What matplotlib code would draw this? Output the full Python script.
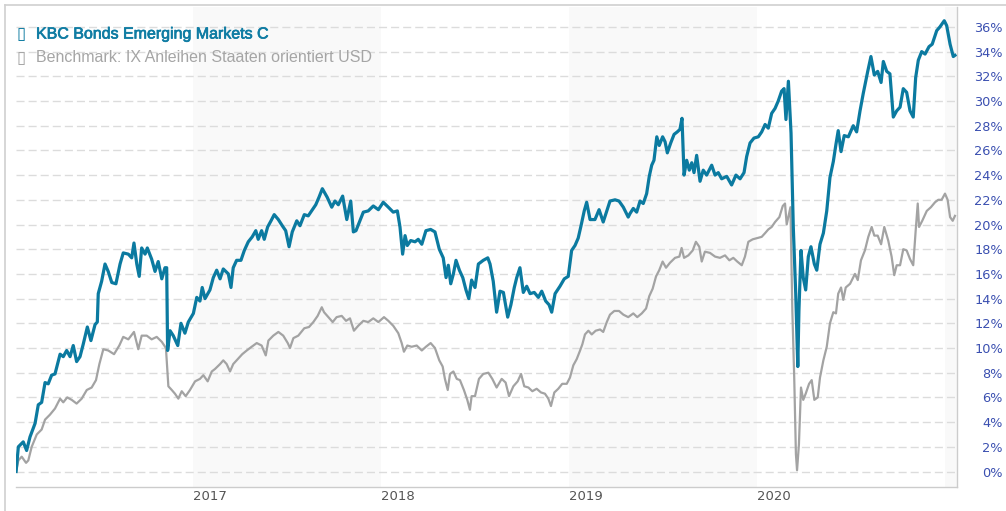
import matplotlib
matplotlib.use("Agg")
import matplotlib.pyplot as plt
from matplotlib.lines import Line2D
import matplotlib.patheffects as pe

# ---------------- data (decimal years, percent) ----------------
fund_t = [2016.059, 2016.071, 2016.097, 2016.115, 2016.133, 2016.160, 2016.177, 2016.195, 2016.213, 2016.230,
          2016.248, 2016.266, 2016.293, 2016.310, 2016.328, 2016.346, 2016.363, 2016.381, 2016.399, 2016.416,
          2016.438, 2016.457, 2016.479, 2016.491, 2016.496, 2016.514, 2016.532, 2016.549, 2016.568, 2016.590,
          2016.612, 2016.629, 2016.656, 2016.674, 2016.686, 2016.701, 2016.714, 2016.727, 2016.745, 2016.757,
          2016.780, 2016.798, 2016.815, 2016.834, 2016.851, 2016.860, 2016.865, 2016.878, 2016.895, 2016.919,
          2016.936, 2016.957, 2016.975, 2017.002, 2017.020, 2017.037, 2017.049, 2017.064, 2017.090, 2017.108,
          2017.126, 2017.144, 2017.161, 2017.188, 2017.202, 2017.214, 2017.232, 2017.255, 2017.273, 2017.294,
          2017.315, 2017.334, 2017.347, 2017.365, 2017.379, 2017.397, 2017.415, 2017.432, 2017.454, 2017.475,
          2017.493, 2017.511, 2017.528, 2017.552, 2017.569, 2017.592, 2017.613, 2017.631, 2017.653, 2017.670,
          2017.688, 2017.714, 2017.738, 2017.755, 2017.773, 2017.796, 2017.818, 2017.839, 2017.853, 2017.867,
          2017.885, 2017.906, 2017.932, 2017.959, 2017.986, 2018.012, 2018.039, 2018.065, 2018.087, 2018.101,
          2018.115, 2018.128, 2018.140, 2018.158, 2018.181, 2018.198, 2018.217, 2018.239, 2018.264, 2018.287,
          2018.310, 2018.331, 2018.346, 2018.358, 2018.371, 2018.385, 2018.399, 2018.417, 2018.435, 2018.452,
          2018.467, 2018.482, 2018.500, 2018.518, 2018.544, 2018.568, 2018.580, 2018.597, 2018.615, 2018.633,
          2018.651, 2018.674, 2018.691, 2018.709, 2018.722, 2018.739, 2018.757, 2018.775, 2018.793, 2018.815,
          2018.837, 2018.855, 2018.876, 2018.894, 2018.908, 2018.926, 2018.952, 2018.975, 2018.996, 2019.014,
          2019.032, 2019.049, 2019.064, 2019.081, 2019.094, 2019.112, 2019.138, 2019.160, 2019.182, 2019.201,
          2019.218, 2019.245, 2019.266, 2019.289, 2019.315, 2019.325, 2019.342, 2019.360, 2019.378, 2019.395,
          2019.413, 2019.427, 2019.440, 2019.452, 2019.467, 2019.480, 2019.498, 2019.511, 2019.523, 2019.541,
          2019.559, 2019.576, 2019.590, 2019.601, 2019.612, 2019.626, 2019.640, 2019.653, 2019.665, 2019.679,
          2019.697, 2019.714, 2019.732, 2019.759, 2019.777, 2019.794, 2019.812, 2019.839, 2019.865, 2019.888,
          2019.910, 2019.931, 2019.945, 2019.963, 2019.984, 2020.007, 2020.025, 2020.043, 2020.060, 2020.078,
          2020.096, 2020.113, 2020.131, 2020.144, 2020.154, 2020.167, 2020.181, 2020.193, 2020.206, 2020.217,
          2020.223, 2020.234, 2020.246, 2020.259, 2020.273, 2020.287, 2020.305, 2020.318, 2020.335, 2020.353,
          2020.371, 2020.388, 2020.406, 2020.420, 2020.432, 2020.447, 2020.464, 2020.486, 2020.512, 2020.530,
          2020.548, 2020.565, 2020.589, 2020.606, 2020.624, 2020.642, 2020.660, 2020.672, 2020.690, 2020.707,
          2020.725, 2020.743, 2020.761, 2020.778, 2020.796, 2020.814, 2020.831, 2020.844, 2020.858, 2020.876,
          2020.894, 2020.915, 2020.932, 2020.956, 2020.973, 2020.996, 2021.009, 2021.027, 2021.044, 2021.053]
fund_v = [0.0, 2.0, 2.4, 1.7, 2.8, 3.9, 5.4, 5.6, 7.2, 7.1,
          7.8, 7.9, 9.5, 9.3, 9.8, 9.3, 10.2, 8.9, 9.3, 10.3,
          11.7, 10.6, 11.9, 12.1, 14.4, 15.4, 16.8, 16.2, 15.3, 15.2,
          16.8, 17.7, 17.6, 17.3, 18.5, 16.8, 15.8, 18.1, 17.6, 18.1,
          17.2, 16.2, 17.0, 15.6, 16.5, 16.5, 9.8, 11.4, 11.0, 10.2,
          12.0, 11.2, 12.1, 12.8, 14.1, 13.8, 14.9, 14.0, 14.7, 15.7,
          16.3, 15.6, 16.4, 16.0, 14.9, 16.5, 17.1, 17.1, 17.9, 18.6,
          19.0, 19.5, 18.8, 19.5, 18.8, 19.8, 20.3, 20.8, 20.4, 19.9,
          19.5, 18.2, 19.4, 20.3, 19.9, 20.8, 20.7, 21.1, 21.6, 22.2,
          22.9, 22.2, 21.4, 21.9, 21.6, 22.3, 20.4, 21.9, 19.4, 19.5,
          20.2, 21.0, 21.1, 21.5, 21.2, 21.8, 21.4, 21.0, 21.1, 19.8,
          17.6, 19.1, 18.3, 18.7, 18.6, 18.8, 18.4, 19.5, 19.6, 19.4,
          18.0, 17.3, 15.7, 16.7, 15.2, 16.0, 17.1, 16.3, 15.7, 14.7,
          14.0, 15.5, 14.9, 16.8, 17.1, 17.3, 16.8, 15.4, 12.9, 14.6,
          14.5, 12.5, 13.5, 14.9, 15.7, 16.5, 14.5, 15.0, 14.4, 14.5,
          14.1, 14.6, 13.8, 13.5, 12.9, 14.4, 15.0, 15.6, 15.8, 17.9,
          18.3, 18.9, 19.9, 21.1, 21.8, 20.4, 20.4, 21.2, 20.2, 21.1,
          21.9, 22.0, 21.9, 21.4, 20.6, 20.9, 21.3, 21.0, 21.9, 21.7,
          22.5, 23.9, 24.8, 25.2, 27.1, 26.4, 27.1, 26.7, 25.8, 26.6,
          27.3, 27.5, 27.7, 28.6, 24.0, 25.2, 24.4, 25.0, 24.2, 25.6,
          23.5, 24.4, 24.0, 24.8, 24.0, 24.2, 23.7, 23.9, 23.2, 24.0,
          23.7, 24.2, 25.5, 26.6, 27.0, 27.1, 27.5, 28.1, 27.8, 29.0,
          29.4, 30.0, 30.8, 31.0, 28.5, 31.6, 27.4, 19.8, 14.4, 8.5,
          13.0, 17.9, 15.7, 14.7, 17.4, 18.2, 16.8, 16.3, 18.4, 19.3,
          21.1, 23.8, 25.1, 26.5, 27.6, 25.9, 27.2, 27.1, 28.0, 27.5,
          29.2, 30.6, 32.4, 33.6, 32.1, 32.4, 31.5, 33.2, 32.4, 32.2,
          28.7, 29.2, 29.5, 31.0, 30.7, 29.2, 28.7, 31.9, 33.3, 34.0,
          33.8, 34.4, 34.6, 35.7, 36.0, 36.5, 36.1, 34.6, 33.6, 33.7]

bench_t = [2016.059, 2016.071, 2016.089, 2016.112, 2016.124, 2016.142, 2016.169, 2016.195, 2016.213, 2016.239,
           2016.266, 2016.293, 2016.310, 2016.331, 2016.355, 2016.381, 2016.408, 2016.435, 2016.461, 2016.484,
           2016.502, 2016.523, 2016.549, 2016.580, 2016.608, 2016.629, 2016.656, 2016.686, 2016.709, 2016.727,
           2016.754, 2016.780, 2016.807, 2016.834, 2016.856, 2016.869, 2016.887, 2016.904, 2016.922, 2016.940,
           2016.961, 2016.984, 2017.011, 2017.037, 2017.055, 2017.078, 2017.100, 2017.117, 2017.144, 2017.161,
           2017.179, 2017.197, 2017.214, 2017.238, 2017.262, 2017.286, 2017.312, 2017.339, 2017.365, 2017.387,
           2017.401, 2017.427, 2017.454, 2017.480, 2017.504, 2017.516, 2017.534, 2017.560, 2017.592, 2017.617,
           2017.640, 2017.663, 2017.685, 2017.697, 2017.720, 2017.743, 2017.764, 2017.791, 2017.814, 2017.835,
           2017.856, 2017.879, 2017.906, 2017.932, 2017.959, 2017.986, 2018.016, 2018.039, 2018.065, 2018.092,
           2018.110, 2018.122, 2018.140, 2018.163, 2018.190, 2018.217, 2018.239, 2018.264, 2018.287, 2018.310,
           2018.328, 2018.340, 2018.355, 2018.367, 2018.385, 2018.403, 2018.420, 2018.441, 2018.459, 2018.473,
           2018.482, 2018.500, 2018.521, 2018.544, 2018.571, 2018.592, 2018.615, 2018.642, 2018.663, 2018.681,
           2018.704, 2018.727, 2018.745, 2018.762, 2018.784, 2018.805, 2018.828, 2018.851, 2018.872, 2018.890,
           2018.904, 2018.922, 2018.943, 2018.964, 2018.988, 2019.005, 2019.023, 2019.041, 2019.059, 2019.071,
           2019.085, 2019.103, 2019.121, 2019.142, 2019.165, 2019.182, 2019.201, 2019.218, 2019.241, 2019.266,
           2019.289, 2019.315, 2019.342, 2019.363, 2019.387, 2019.410, 2019.427, 2019.445, 2019.463, 2019.480,
           2019.498, 2019.516, 2019.537, 2019.564, 2019.587, 2019.599, 2019.612, 2019.635, 2019.658, 2019.675,
           2019.693, 2019.706, 2019.723, 2019.750, 2019.777, 2019.803, 2019.830, 2019.853, 2019.874, 2019.895,
           2019.919, 2019.936, 2019.954, 2019.977, 2020.001, 2020.025, 2020.043, 2020.060, 2020.078, 2020.096,
           2020.119, 2020.137, 2020.149, 2020.158, 2020.172, 2020.178, 2020.188, 2020.198, 2020.207, 2020.213,
           2020.223, 2020.234, 2020.246, 2020.259, 2020.277, 2020.291, 2020.305, 2020.323, 2020.335, 2020.353,
           2020.371, 2020.388, 2020.406, 2020.420, 2020.432, 2020.447, 2020.459, 2020.472, 2020.495, 2020.521,
           2020.536, 2020.553, 2020.574, 2020.592, 2020.610, 2020.624, 2020.642, 2020.660, 2020.677, 2020.698,
           2020.716, 2020.730, 2020.743, 2020.761, 2020.778, 2020.796, 2020.814, 2020.831, 2020.844, 2020.855,
           2020.862, 2020.879, 2020.903, 2020.925, 2020.947, 2020.964, 2020.982, 2021.000, 2021.014, 2021.027,
           2021.041, 2021.053]
bench_v = [0.0, 0.9, 1.2, 0.7, 0.9, 2.0, 3.0, 3.4, 4.2, 4.6,
           5.1, 5.9, 5.6, 6.0, 5.8, 5.5, 5.9, 6.6, 6.8, 7.4,
           8.7, 9.9, 9.8, 9.5, 10.2, 10.9, 10.7, 11.3, 9.9, 11.0,
           11.0, 10.7, 10.9, 10.5, 10.0, 6.9, 6.6, 6.3, 5.9, 6.5,
           6.1, 6.6, 7.3, 7.5, 7.8, 7.3, 8.1, 8.3, 8.7, 9.0,
           8.7, 8.1, 8.7, 9.1, 9.5, 9.8, 10.1, 10.4, 10.2, 9.4,
           10.6, 11.0, 11.3, 11.0, 10.4, 10.0, 10.8, 11.0, 11.6, 11.7,
           12.1, 12.6, 13.3, 12.9, 12.5, 12.1, 12.5, 12.6, 12.2, 12.4,
           11.4, 11.8, 12.2, 12.1, 12.4, 12.1, 12.5, 12.2, 11.8, 11.2,
           10.4, 9.7, 10.2, 10.1, 10.2, 9.8, 10.1, 10.4, 10.0, 9.0,
           8.5, 7.5, 6.6, 7.9, 8.1, 7.5, 7.4, 6.6, 5.8, 5.0,
           6.1, 6.1, 7.5, 7.9, 8.0, 7.5, 6.8, 7.5, 7.2, 6.1,
           6.9, 7.3, 7.9, 6.9, 6.8, 6.5, 6.7, 6.4, 6.3, 5.9,
           5.3, 6.4, 6.7, 7.1, 7.1, 7.6, 8.6, 9.1, 9.8, 10.3,
           11.1, 11.4, 11.1, 11.4, 11.5, 11.3, 12.1, 12.7, 13.0, 13.0,
           12.7, 12.5, 12.8, 12.5, 12.8, 13.2, 14.2, 14.8, 15.8, 16.3,
           17.0, 16.5, 16.9, 17.3, 17.4, 18.1, 17.3, 17.5, 17.9, 18.6,
           18.2, 17.0, 17.8, 17.7, 17.4, 17.3, 17.5, 17.1, 17.3, 17.0,
           16.7, 17.4, 18.6, 18.8, 18.9, 19.0, 19.3, 19.6, 19.8, 20.2,
           20.6, 21.5, 21.7, 20.0, 21.0, 21.4, 13.0, 7.6, 1.4, 0.1,
           2.2, 6.8, 5.8, 6.3, 7.1, 7.4, 5.8, 6.0, 7.6, 9.0,
           10.1, 12.0, 12.9, 12.8, 14.4, 14.9, 13.9, 14.9, 15.2, 16.0,
           15.5, 17.1, 17.9, 19.0, 19.8, 19.1, 19.1, 18.4, 19.8, 18.7,
           17.4, 15.9, 16.7, 16.7, 18.0, 17.9, 17.2, 16.7, 19.5, 21.7,
           19.8, 20.3, 21.1, 21.4, 21.8, 22.0, 22.0, 22.5, 22.0, 20.6,
           20.3, 20.7]

year_ticks = [2017, 2018, 2019, 2020]
shaded_years = [(2017, 2018), (2019, 2020), (2021, 2022)]
pct_ticks = list(range(0, 37, 2))
fund_name = "KBC Bonds Emerging Markets C"
bench_name = "Benchmark: IX Anleihen Staaten orientiert USD"

# ---------------- figure ----------------
W, H = 1006, 511
plt.rcParams['lines.scale_dashes'] = False
fig = plt.figure(figsize=(W / 100, H / 100), dpi=100)

px_per_year = 188.0
x_left_px, x_right_px = 16, 957
y_bot_px, y_top_px = 487, 7
ax = fig.add_axes([x_left_px / W, 1 - y_bot_px / H, (x_right_px - x_left_px) / W, (y_bot_px - y_top_px) / H])

x0 = 2016 + (x_left_px - 5) / px_per_year
x1 = 2016 + (x_right_px - 5) / px_per_year
ax.set_xlim(x0, x1)
px_per_pct = 12.35
y0_px = 471.5
ax.set_ylim(-(y_bot_px - y0_px) / px_per_pct, (y0_px - y_top_px) / px_per_pct)

for a, b in shaded_years:
    ax.axvspan(a, min(b, x1), color='#f9f9f9', lw=0, zorder=0)

for v in pct_ticks:
    ax.axhline(v, color='#dcdcdc', lw=1.0, ls=(0, (5.8, 2.9)), zorder=1)

ax.plot(bench_t, bench_v, color='#a3a3a3', lw=1.6, zorder=3, solid_joinstyle='round')
ax.plot(fund_t, fund_v, color='#0b7aa0', lw=2.3, zorder=4, solid_joinstyle='round')

for s in ['top', 'left']:
    ax.spines[s].set_visible(False)
ax.spines['bottom'].set_color('#cccccc')
ax.spines['bottom'].set_linewidth(1.0)
ax.spines['right'].set_color('#cccccc')
ax.spines['right'].set_linewidth(1.0)
ax.set_facecolor('white')

ax.set_xticks(year_ticks)
ax.set_xticklabels([str(y) for y in year_ticks])
ax.tick_params(axis='x', length=0, pad=2, labelsize=9.5, labelcolor='#555555')
for lbl in ax.get_xticklabels():
    lbl.set_horizontalalignment('left')

ax.yaxis.tick_right()
ax.set_yticks(pct_ticks)
ax.set_yticklabels([f"{v}%" for v in pct_ticks])
ax.tick_params(axis='y', length=0, pad=33, labelsize=9.3, labelcolor='#3a4fb0')
for lbl in ax.get_yticklabels():
    lbl.set_horizontalalignment('right')

# outer frame
fig.add_artist(Line2D([4.5 / W, 4.5 / W], [0, 1 - 5 / H], transform=fig.transFigure, color='#d0d0d0', lw=1.2))
fig.add_artist(Line2D([4.5 / W, 1], [1 - 5.5 / H, 1 - 5.5 / H], transform=fig.transFigure, color='#d0d0d0', lw=1.2))

# legend
fig.text(16 / W, 1 - 34 / H, "\u25af", color='#0b7aa0', fontsize=12, family='DejaVu Sans', va='center', ha='left')
fig.text(36 / W, 1 - 34 / H, fund_name, color='#0f7ca3', fontsize=11.5, family='Liberation Sans', va='center', ha='left',
         path_effects=[pe.withStroke(linewidth=0.5, foreground='#0f7ca3')])
fig.text(16 / W, 1 - 58 / H, "\u25af", color='#a3a3a3', fontsize=12, family='DejaVu Sans', va='center', ha='left')
fig.text(36 / W, 1 - 58 / H, bench_name, color='#a5a5a5', fontsize=11.5, family='Liberation Sans', va='center', ha='left')

fig.savefig("out.png", dpi=100)
